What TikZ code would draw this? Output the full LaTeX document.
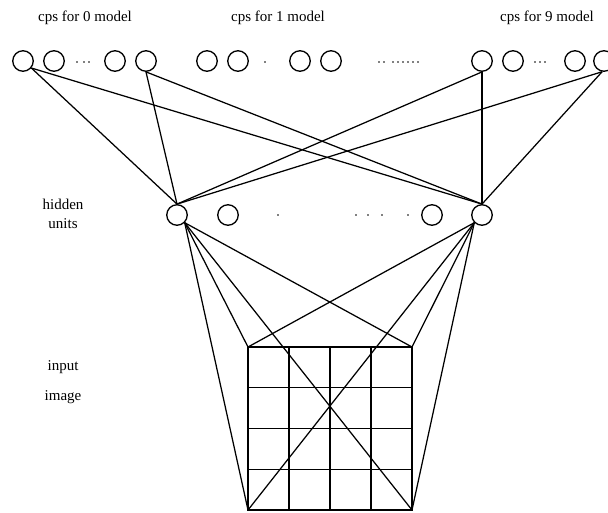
\documentclass[tikz,border=0pt]{standalone}
\usepackage{fontspec}
\setmainfont{Liberation Serif}
\usetikzlibrary{calc}
\begin{document}
\begin{tikzpicture}[x=1pt,y=-1pt,
  unit/.style={circle,draw,line width=1.3pt,minimum size=20.5pt,inner sep=0pt},
  lbl/.style={font=\fontsize{15}{18}\selectfont,inner sep=0pt},
  conn/.style={line width=1.25pt},
  dotmark/.style={circle,fill=black,inner sep=0pt,minimum size=1.6pt}]
\useasboundingbox (0,0) rectangle (608,512);
% labels
\node[lbl] (l0) at (85,18) {cps for 0 model};
\node[lbl] (l1) at (278,18) {cps for 1 model};
\node[lbl] (l9) at (547,18) {cps for 9 model};
\node[lbl] (lh1) at (63,204) {hidden};
\node[lbl] (lh2) at (63,224) {units};
\node[lbl] (li1) at (63,367) {input};
\node[lbl] (li2) at (63,397) {image};
% top units
\foreach \n/\x in {1/23,2/54,3/115,4/146,5/207,6/238,7/300,8/331,9/482,10/513,11/575,12/604}
  \node[unit] (t\n) at (\x,61) {};
% dots in top row
\foreach \n/\x in {a/77,b/84,c/89,d/265,e/379,f/384,g/393,h/398,i/403,j/408,k/413,l/418,m/535,n/540,o/545}
  \node[dotmark] (td\n) at (\x,62) {};
% hidden units
\foreach \n/\x in {1/177,2/228,3/432,4/482}
  \node[unit] (h\n) at (\x,215) {};
\foreach \n/\x in {a/278,b/356,c/368,d/382,e/408}
  \node[dotmark] (hd\n) at (\x,215) {};
% grid
\coordinate (TL) at (248,347);
\coordinate (TR) at (412,347);
\coordinate (BL) at (248,510);
\coordinate (BR) at (412,510);
\draw[conn] (TL) rectangle (BR);
\foreach \i in {1,2,3}{
  \draw[conn] ($(TL)!\i/4!(TR)$) -- ($(BL)!\i/4!(BR)$);
  \draw[conn] ($(TL)!\i/4!(BL)$) -- ($(TR)!\i/4!(BR)$);
}
% top to hidden
\foreach \s/\a in {t1/-40,t4/-90,t9/-90,t12/-100}{
  \draw[conn] (\s.\a) -- (h1.north);
  \draw[conn] (\s.\a) -- (h4.north);
}
% hidden to grid
\foreach \c in {TL,TR,BL,BR}{
  \draw[conn] (h1.-45) -- (\c);
  \draw[conn] (h4.-135) -- (\c);
}
\end{tikzpicture}
\end{document}
